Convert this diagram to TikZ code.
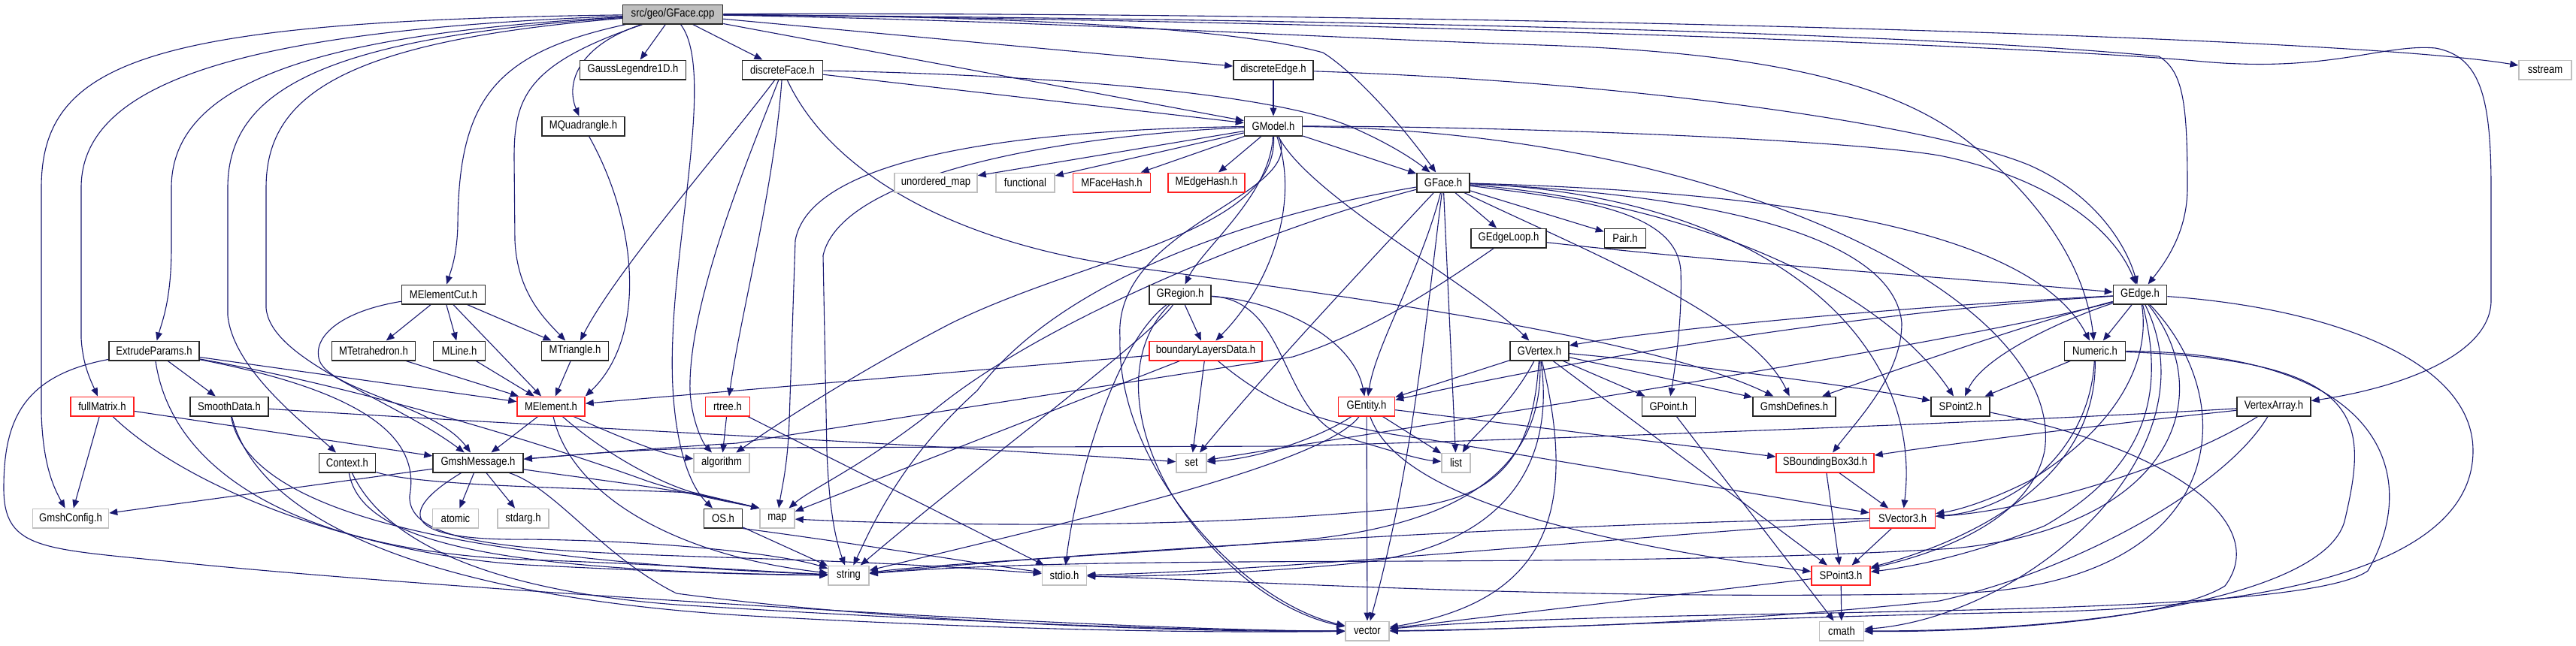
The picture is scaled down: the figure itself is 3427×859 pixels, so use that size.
\documentclass[tikz,border=0pt]{standalone}
\usepackage{fontspec}
\newfontfamily\dox[FakeStretch=0.85]{Liberation Sans}
\usetikzlibrary{arrows.meta}
\pgfdeclarelayer{edges}
\pgfsetlayers{edges,main}
\definecolor{edgeblue}{HTML}{191970}
\definecolor{sysgrey}{HTML}{BFBFBF}
\definecolor{hdrredc}{HTML}{FF2020}
\tikzset{
 hdr/.style={draw=black!85, line width=0.75pt, fill=white, inner sep=0pt, minimum height=12.75pt, font=\dox\fontsize{7.7}{9}\selectfont},
 hdrred/.style={hdr, draw=hdrredc},
 hdrsys/.style={hdr, draw=sysgrey},
 lnk/.style={draw=edgeblue, line width=0.55pt, -{Triangle[length=5.5pt,width=4.4pt]}},
}
\begin{document}
\begin{tikzpicture}[x=0.5pt,y=-0.5pt]
\useasboundingbox (0,0) rectangle (3427,859);
% nodes
\node[hdr, fill=sysgrey, minimum width=66.5pt] (cpp) at (895,19) {src/geo/GFace.cpp};
\node[hdr, minimum width=70.5pt] (gl) at (842,93) {GaussLegendre1D.h};
\node[hdr, minimum width=53.5pt] (dface) at (1041,93) {discreteFace.h};
\node[hdr, minimum width=53pt] (dedge) at (1694,93) {discreteEdge.h};
\node[hdrsys, minimum width=35pt] (sstream) at (3386,93) {sstream};
\node[hdr, minimum width=55pt] (mquad) at (776,168) {MQuadrangle.h};
\node[hdr, minimum width=38.5pt] (gmodel) at (1694,168) {GModel.h};
\node[hdrsys, minimum width=55pt] (umap) at (1245,243) {unordered\_map};
\node[hdrsys, minimum width=39pt] (functional) at (1364,243) {functional};
\node[hdrred, minimum width=51.5pt] (mfh) at (1479,243) {MFaceHash.h};
\node[hdrred, minimum width=51pt] (meh) at (1605,243) {MEdgeHash.h};
\node[hdr, minimum width=35pt] (gfaceh) at (1920,243) {GFace.h};
\node[hdr, minimum width=50pt] (geloop) at (2007,317) {GEdgeLoop.h};
\node[hdr, minimum width=27.5pt] (pair) at (2162,317) {Pair.h};
\node[hdr, minimum width=55.5pt] (mecut) at (590,392) {MElementCut.h};
\node[hdr, minimum width=41pt] (gregion) at (1570,392) {GRegion.h};
\node[hdr, minimum width=35.5pt] (gedge) at (2847,392) {GEdge.h};
\node[hdr, minimum width=60pt] (extr) at (205,467) {ExtrudeParams.h};
\node[hdr, minimum width=55.5pt] (mtet) at (497,467) {MTetrahedron.h};
\node[hdr, minimum width=34.5pt] (mline) at (611,467) {MLine.h};
\node[hdr, minimum width=44.5pt] (mtri) at (765,467) {MTriangle.h};
\node[hdrred, minimum width=75pt] (bld) at (1604,467) {boundaryLayersData.h};
\node[hdr, minimum width=39pt] (gvertex) at (2048,467) {GVertex.h};
\node[hdr, minimum width=40.5pt] (numeric) at (2787,467) {Numeric.h};
\node[hdrred, minimum width=42pt] (fullm) at (136,541) {fullMatrix.h};
\node[hdr, minimum width=52pt] (smooth) at (305,541) {SmoothData.h};
\node[hdrred, minimum width=45pt] (melem) at (733,541) {MElement.h};
\node[hdrred, minimum width=29.5pt] (rtree) at (968,541) {rtree.h};
\node[hdrred, minimum width=37.5pt] (gentity) at (1818,541) {GEntity.h};
\node[hdr, minimum width=35.5pt] (gpoint) at (2220,541) {GPoint.h};
\node[hdr, minimum width=55pt] (gdef) at (2387,541) {GmshDefines.h};
\node[hdr, minimum width=39pt] (spoint2) at (2608,541) {SPoint2.h};
\node[hdr, minimum width=49pt] (varray) at (3025,541) {VertexArray.h};
\node[hdr, minimum width=37.5pt] (context) at (462,616) {Context.h};
\node[hdr, minimum width=60pt] (gmsg) at (636,616) {GmshMessage.h};
\node[hdrsys, minimum width=37pt] (algo) at (960,616) {algorithm};
\node[hdrsys, minimum width=20pt] (set) at (1585,616) {set};
\node[hdrsys, minimum width=19pt] (list) at (1937,616) {list};
\node[hdrred, minimum width=65pt] (sbb) at (2428,616) {SBoundingBox3d.h};
\node[hdrsys, minimum width=50.5pt] (gconf) at (94,690) {GmshConfig.h};
\node[hdrsys, minimum width=30.5pt] (atomic) at (606,690) {atomic};
\node[hdrsys, minimum width=34pt] (stdarg) at (696,690) {stdarg.h};
\node[hdr, minimum width=25.5pt] (os) at (962,690) {OS.h};
\node[hdrsys, minimum width=23pt] (map) at (1034,690) {map};
\node[hdrred, minimum width=43.5pt] (svec3) at (2531,690) {SVector3.h};
\node[hdrsys, minimum width=27pt] (string) at (1129,766) {string};
\node[hdrsys, minimum width=29.5pt] (stdio) at (1416,766) {stdio.h};
\node[hdrred, minimum width=39pt] (spoint3) at (2449,766) {SPoint3.h};
\node[hdrsys, minimum width=29pt] (vector) at (1819,840) {vector};
\node[hdrsys, minimum width=29.5pt] (cmath) at (2450,840) {cmath};

\begin{pgfonlayer}{edges}
\fill[white] (0,0) rectangle (3427,859);
% cpp
\draw[lnk] (cpp) -- (gl);
\draw[lnk] (cpp) -- (dface);
\draw[lnk] (cpp) -- (dedge);
\draw[lnk] (cpp) -- (gmodel);
\draw[lnk] (cpp) .. controls (1400,22) and (1650,40) .. (1760,70) .. controls (1800,95) and (1860,160) .. (gfaceh);
\draw[lnk] (cpp) .. controls (1500,24) and (2450,35) .. (2872,75) .. controls (2905,95) and (2910,140) .. (2910,250) .. controls (2910,310) and (2880,350) .. (gedge);
\draw[lnk] (cpp) .. controls (1400,28) and (1750,50) .. (2050,60) .. controls (2350,70) and (2520,110) .. (2620,190) .. controls (2720,270) and (2775,360) .. (numeric);
\draw[lnk] (cpp) .. controls (1800,28) and (2700,60) .. (2931,82) .. controls (3100,97) and (3170,58) .. (3240,64) .. controls (3300,75) and (3314,130) .. (3314,250) -- (3314,400) .. controls (3314,470) and (3200,515) .. (varray);
\draw[lnk] (cpp) .. controls (1800,15) and (3100,45) .. (sstream);
\draw[lnk] (cpp) .. controls (770,60) and (752,110) .. (mquad);
\draw[lnk] (cpp) .. controls (660,70) and (610,130) .. (609,300) .. controls (608,340) and (600,360) .. (mecut);
\draw[lnk] (cpp) .. controls (700,85) and (684,130) .. (684,210) -- (685,320) .. controls (688,390) and (725,425) .. (mtri);
\draw[lnk] (cpp) .. controls (420,45) and (228,110) .. (228,250) -- (228,330) .. controls (228,400) and (215,430) .. (extr);
\draw[lnk] (cpp) .. controls (320,40) and (108,110) .. (108,250) -- (108,450) .. controls (110,485) and (120,505) .. (fullm);
\draw[lnk] (cpp) .. controls (200,28) and (55,80) .. (55,250) -- (55,550) .. controls (57,620) and (72,650) .. (gconf);
\draw[lnk] (cpp) .. controls (430,50) and (303,120) .. (303,250) -- (303,420) .. controls (310,490) and (400,560) .. (context);
\draw[lnk] (cpp) .. controls (450,55) and (354,130) .. (354,250) -- (354,410) .. controls (360,480) and (520,530) .. (gmsg);
\draw[lnk] (cpp) .. controls (950,90) and (900,300) .. (895,450) .. controls (890,560) and (910,640) .. (os);
% GModel
\draw[lnk] (gmodel) -- (umap);
\draw[lnk] (gmodel) -- (functional);
\draw[lnk] (gmodel) -- (mfh);
\draw[lnk] (gmodel) -- (meh);
\draw[lnk] (gmodel) -- (gfaceh);
\draw[lnk] (gmodel) .. controls (2000,168) and (2450,185) .. (2580,207) .. controls (2720,235) and (2810,300) .. (gedge);
\draw[lnk] (gmodel) .. controls (1740,260) and (1960,380) .. (gvertex);
\draw[lnk] (gmodel) .. controls (1690,260) and (1600,330) .. (gregion);
\draw[lnk] (gmodel) .. controls (1730,270) and (1690,380) .. (bld);
\draw[lnk] (gmodel) .. controls (1400,172) and (1080,200) .. (1058,320) -- (1050,560) .. controls (1048,620) and (1040,650) .. (map);
\draw[lnk] (gmodel) .. controls (1420,180) and (1120,230) .. (1095,340) -- (1100,600) .. controls (1103,680) and (1112,720) .. (string);
\draw[lnk] (gmodel) .. controls (1700,310) and (1450,340) .. (1266,430) .. controls (1150,490) and (1040,560) .. (algo);
\draw[lnk] (gmodel) .. controls (1740,260) and (1480,300) .. (1490,450) .. controls (1485,620) and (1650,800) .. (vector);
\draw[lnk] (gmodel) .. controls (2300,175) and (2750,400) .. (2720,600) .. controls (2700,700) and (2560,740) .. (spoint3);
% discreteFace
\draw[lnk] (dface) -- (gmodel);
\draw[lnk] (dface) .. controls (1400,100) and (1700,125) .. (1800,170) .. controls (1850,192) and (1880,212) .. (gfaceh);
\draw[lnk] (dface) .. controls (960,200) and (820,360) .. (mtri);
\draw[lnk] (dface) .. controls (1030,250) and (985,420) .. (rtree);
\draw[lnk] (dface) .. controls (1000,200) and (915,400) .. (918,520) .. controls (920,560) and (935,590) .. (algo);
\draw[lnk] (dface) .. controls (1100,220) and (1250,320) .. (1500,355) .. controls (1800,395) and (2200,450) .. (gdef);
% discreteEdge
\draw[lnk] (dedge) -- (gmodel);
\draw[lnk] (dedge) .. controls (2200,110) and (2580,170) .. (2700,220) .. controls (2790,260) and (2830,330) .. (gedge);
% GFace.h
\draw[lnk] (gfaceh) -- (geloop);
\draw[lnk] (gfaceh) -- (pair);
\draw[lnk] (gfaceh) .. controls (1890,360) and (1830,460) .. (gentity);
\draw[lnk] (gfaceh) -- (list);
\draw[lnk] (gfaceh) .. controls (1700,280) and (1420,360) .. (1300,520) .. controls (1200,610) and (1160,700) .. (string);
\draw[lnk] (gfaceh) .. controls (1700,300) and (1400,420) .. (1250,540) .. controls (1150,620) and (1080,650) .. (map);
\draw[lnk] (gfaceh) .. controls (1820,350) and (1680,500) .. (set);
\draw[lnk] (gfaceh) .. controls (1900,400) and (1880,620) .. (vector);
\draw[lnk] (gfaceh) .. controls (2100,265) and (2230,280) .. (2236,360) .. controls (2238,420) and (2230,480) .. (gpoint);
\draw[lnk] (gfaceh) .. controls (2250,270) and (2500,380) .. (spoint2);
\draw[lnk] (gfaceh) .. controls (2350,260) and (2560,450) .. (svec3);
\draw[lnk] (gfaceh) .. controls (2350,255) and (2700,300) .. (numeric);
\draw[lnk] (gfaceh) .. controls (2100,330) and (2330,420) .. (gdef);
\draw[lnk] (gfaceh) .. controls (2300,260) and (2520,320) .. (2530,430) .. controls (2530,500) and (2470,560) .. (sbb);
% GEdgeLoop
\draw[lnk] (geloop) .. controls (2300,350) and (2600,370) .. (gedge);
\draw[lnk] (geloop) .. controls (1930,370) and (1830,440) .. (1720,475) -- (980,590) .. controls (850,598) and (760,606) .. (gmsg);
% GRegion
\draw[lnk] (gregion) -- (bld);
\draw[lnk] (gregion) .. controls (1700,400) and (1800,450) .. (gentity);
\draw[lnk] (gregion) .. controls (1530,450) and (1300,620) .. (string);
\draw[lnk] (gregion) .. controls (1500,460) and (1500,560) .. (1560,660) .. controls (1630,770) and (1720,820) .. (vector);
\draw[lnk] (gregion) .. controls (1720,400) and (1700,560) .. (1800,585) .. controls (1850,600) and (1890,612) .. (list);
\draw[lnk] (gregion) .. controls (1480,460) and (1430,650) .. (stdio);
% GVertex
\draw[lnk] (gvertex) -- (gentity);
\draw[lnk] (gvertex) .. controls (2010,540) and (1960,580) .. (list);
\draw[lnk] (gvertex) -- (gpoint);
\draw[lnk] (gvertex) -- (gdef);
\draw[lnk] (gvertex) .. controls (2300,490) and (2500,520) .. (spoint2);
\draw[lnk] (gvertex) -- (spoint3);
\draw[lnk] (gvertex) .. controls (2040,600) and (2000,660) .. (1880,675) .. controls (1600,705) and (1250,700) .. (map);
\draw[lnk] (gvertex) .. controls (2055,620) and (1950,700) .. (1720,720) .. controls (1500,738) and (1250,750) .. (string);
\draw[lnk] (gvertex) .. controls (2070,620) and (2000,730) .. (1800,750) .. controls (1650,765) and (1500,768) .. (stdio);
\draw[lnk] (gvertex) .. controls (2100,680) and (2060,800) .. (vector);
% GEntity
\draw[lnk] (gentity) -- (sbb);
\draw[lnk] (gentity) -- (list);
\draw[lnk] (gentity) .. controls (1860,660) and (2100,720) .. (spoint3);
\draw[lnk] (gentity) -- (vector);
\draw[lnk] (gentity) .. controls (1760,580) and (1680,610) .. (set);
\draw[lnk] (gentity) .. controls (1760,620) and (1400,700) .. (string);
% GPoint
\draw[lnk] (gpoint) -- (cmath);
% GEdge
\draw[lnk] (gedge) .. controls (2400,420) and (2000,500) .. (gentity);
\draw[lnk] (gedge) .. controls (2500,410) and (2200,440) .. (gvertex);
\draw[lnk] (gedge) .. controls (2700,430) and (2500,500) .. (gdef);
\draw[lnk] (gedge) .. controls (2760,420) and (2640,470) .. (spoint2);
\draw[lnk] (gedge) -- (numeric);
\draw[lnk] (gedge) .. controls (2860,470) and (2830,560) .. (2700,640) .. controls (2640,670) and (2600,680) .. (svec3);
\draw[lnk] (gedge) .. controls (2880,520) and (2860,620) .. (2720,700) .. controls (2620,740) and (2540,755) .. (spoint3);
\draw[lnk] (gedge) .. controls (2950,600) and (2700,820) .. (cmath);
\draw[lnk] (gedge) .. controls (2950,520) and (2900,700) .. (2600,730) .. controls (2100,760) and (1500,735) .. (string);
\draw[lnk] (gedge) .. controls (2990,540) and (2960,780) .. (2600,790) .. controls (2100,800) and (1700,775) .. (stdio);
\draw[lnk] (gedge) .. controls (2600,460) and (1800,580) .. (set);
\draw[lnk] (gedge) .. controls (3100,410) and (3290,480) .. (3290,600) .. controls (3290,760) and (3000,810) .. (2700,815) .. controls (2300,822) and (2000,840) .. (vector);
% Numeric
\draw[lnk] (numeric) -- (spoint2);
\draw[lnk] (numeric) .. controls (2780,600) and (2680,680) .. (svec3);
\draw[lnk] (numeric) .. controls (2790,640) and (2620,720) .. (spoint3);
\draw[lnk] (numeric) .. controls (3150,480) and (3150,560) .. (3120,690) .. controls (3100,790) and (2800,840) .. (cmath);
\draw[lnk] (numeric) .. controls (3180,470) and (3220,640) .. (3150,760) .. controls (3050,830) and (2200,805) .. (vector);
% SPoint2
\draw[lnk] (spoint2) .. controls (2900,600) and (3020,700) .. (2960,780) .. controls (2880,830) and (2600,842) .. (cmath);
% VertexArray
\draw[lnk] (varray) .. controls (2700,560) and (2200,580) .. (1720,594) -- (980,596) .. controls (850,597) and (760,606) .. (gmsg);
\draw[lnk] (varray) .. controls (2800,565) and (2600,590) .. (sbb);
\draw[lnk] (varray) .. controls (2900,620) and (2700,680) .. (svec3);
\draw[lnk] (varray) .. controls (2960,650) and (2760,760) .. (2580,800) .. controls (2300,830) and (2000,838) .. (vector);
% SBoundingBox3d, SVector3, SPoint3
\draw[lnk] (sbb) -- (spoint3);
\draw[lnk] (sbb) -- (svec3);
\draw[lnk] (svec3) -- (spoint3);
\draw[lnk] (svec3) .. controls (2100,695) and (1500,730) .. (string);
\draw[lnk] (svec3) .. controls (2100,720) and (1700,760) .. (stdio);
\draw[lnk] (spoint3) -- (cmath);
\draw[lnk] (spoint3) -- (vector);
% rtree, OS
\draw[lnk] (rtree) -- (algo);
\draw[lnk] (rtree) -- (stdio);
\draw[lnk] (os) -- (string);
\draw[lnk] (os.south east) .. controls (1150,725) and (1300,750) .. (stdio);
% Context
\draw[lnk] (context) .. controls (560,648) and (800,650) .. (920,656) -- (map.north west);
\draw[lnk] (context) .. controls (480,720) and (650,760) .. (string);
\draw[lnk] (context) .. controls (520,740) and (700,790) .. (900,805) .. controls (1300,830) and (1600,840) .. (vector);
% GmshMessage
\draw[lnk] (gmsg) -- (gconf);
\draw[lnk] (gmsg) -- (atomic);
\draw[lnk] (gmsg) -- (stdarg);
\draw[lnk] (gmsg) .. controls (800,640) and (900,650) .. (map.north west);
\draw[lnk] (gmsg) .. controls (530,680) and (530,720) .. (700,718) .. controls (900,720) and (1050,740) .. (string);
\draw[lnk] (gmsg) .. controls (740,650) and (800,740) .. (900,790) .. controls (1200,830) and (1600,842) .. (vector);
% fullMatrix
\draw[lnk] (fullm) -- (gconf);
\draw[lnk] (fullm) -- (gmsg);
\draw[lnk] (fullm) .. controls (260,660) and (500,740) .. (700,752) .. controls (900,762) and (1000,765) .. (string);
% SmoothData
\draw[lnk] (smooth) .. controls (700,566) and (1200,590) .. (set);
\draw[lnk] (smooth) .. controls (330,680) and (600,745) .. (string);
\draw[lnk] (smooth) .. controls (350,720) and (650,800) .. (1000,820) .. controls (1400,842) and (1650,842) .. (vector);
% ExtrudeParams
\draw[lnk] (extr) -- (smooth);
\draw[lnk] (extr) -- (melem);
\draw[lnk] (extr) .. controls (500,520) and (750,600) .. (860,640) .. controls (920,660) and (980,670) .. (map.north west);
\draw[lnk] (extr) .. controls (30,500) and (5,560) .. (5,650) .. controls (5,735) and (60,730) .. (250,750) .. controls (500,775) and (900,800) .. (1100,812) .. controls (1400,830) and (1650,840) .. (vector);
\draw[lnk] (extr) .. controls (230,640) and (420,735) .. (700,745) .. controls (900,752) and (1000,760) .. (string);
\draw[lnk] (extr) .. controls (480,520) and (560,580) .. (545,660) .. controls (540,760) and (900,725) .. (stdio);
% MElement
\draw[lnk] (melem) -- (gmsg);
\draw[lnk] (melem) .. controls (820,580) and (880,605) .. (algo);
\draw[lnk] (melem) .. controls (800,600) and (870,640) .. (920,655) -- (map.north west);
\draw[lnk] (melem) .. controls (760,660) and (900,740) .. (string);
% MElementCut
\draw[lnk] (mecut) -- (mtet);
\draw[lnk] (mecut) -- (mline);
\draw[lnk] (mecut) -- (melem);
\draw[lnk] (mecut) -- (mtri);
\draw[lnk] (mecut) .. controls (450,415) and (415,450) .. (425,480) .. controls (440,520) and (580,540) .. (gmsg);
% element headers
\draw[lnk] (mquad) .. controls (850,300) and (860,450) .. (melem.north east);
\draw[lnk] (mtet) -- (melem);
\draw[lnk] (mline) -- (melem);
\draw[lnk] (mtri) -- (melem);
% boundaryLayersData
\draw[lnk] (bld) -- (melem);
\draw[lnk] (bld) -- (map);
\draw[lnk] (bld) -- (set);
\draw[lnk] (bld) .. controls (1680,530) and (1740,565) .. (1900,585) -- (svec3);
\end{pgfonlayer}
\end{tikzpicture}
\end{document}
